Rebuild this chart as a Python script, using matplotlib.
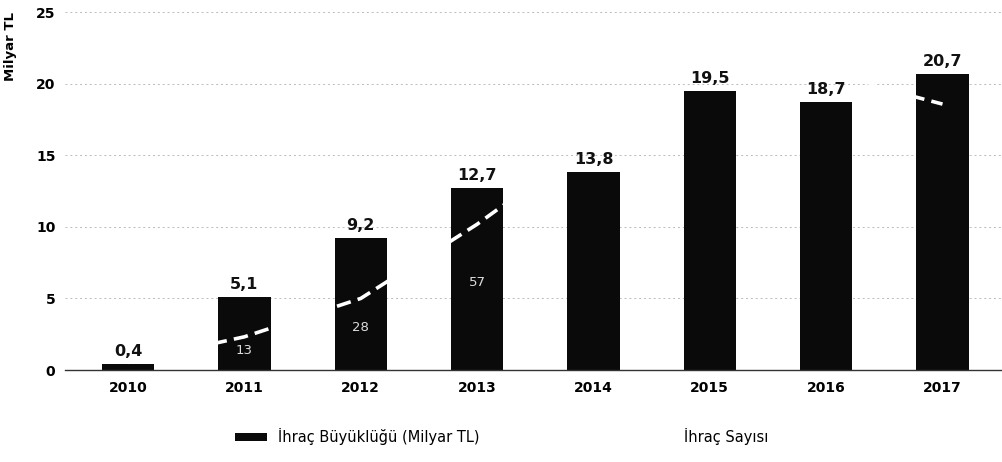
# Ihrac buyuklugu / ihrac sayisi bar chart
import numpy as np
import matplotlib.pyplot as plt

years = ["2010", "2011", "2012", "2013", "2014", "2015", "2016", "2017"]
size_tl = [0.4, 5.1, 9.2, 12.7, 13.8, 19.5, 18.7, 20.7]
size_labels = ["0,4", "5,1", "9,2", "12,7", "13,8", "19,5", "18,7", "20,7"]
# ihrac sayisi (white line, only readable over the bars)
counts = [3, 13, 28, 57, 90, 120, 116, 104]
count_labels = ["", "13", "28", "57", "", "", "", ""]

plt.rcParams['font.family'] = ['DejaVu Sans']

fig = plt.figure(figsize=(10.03, 4.62), dpi=100)
ax = fig.add_axes([0.065, 0.199, 0.935, 0.775])
ax2 = ax.twinx()

x = np.arange(len(years))
ax.bar(x, size_tl, width=0.45, color="#0a0a0a", zorder=2, label="İhraç Büyüklüğü (Milyar TL)")

ax.set_ylim(0, 25)
ax.set_xlim(-0.54, 7.52)
ax.set_yticks([0, 5, 10, 15, 20, 25])
ax.set_xticks(x)
ax.set_xticklabels(years, fontsize=10, fontweight="bold")
for t in ax.get_yticklabels():
	t.set_fontsize(10)
	t.set_fontweight("bold")
ax.tick_params(axis="both", length=0, pad=8)
ax.tick_params(axis="y", pad=7)
ax.grid(True, axis="y", color="#bbbbbb", linestyle=(0, (2, 3)), linewidth=0.7, zorder=0)
for s in ["top", "right", "left"]:
	ax.spines[s].set_visible(False)
ax.spines["bottom"].set_color("#333333")
ax.spines["bottom"].set_linewidth(1.0)
ax.set_ylabel("Milyar TL", fontsize=9.5, fontweight="bold")
ax.yaxis.set_label_coords(-0.051, 0.905)

# secondary scale for the count line
ax2.set_ylim(0, 140)
ax2.plot(x, counts, color="white", linestyle=(0, (4, 2)), linewidth=2.6, zorder=3, label="İhraç Sayısı")
for xi, c, lab in zip(x, counts, count_labels):
	if lab:
		ax2.text(xi, c * 0.6, lab, ha="center", va="center", fontsize=9.5, color="#dddddd")
# value labels above the bars, drawn over the white line
for xi, v, lab in zip(x, size_tl, size_labels):
	ax2.text(xi, v + 0.35, lab, transform=ax.transData, ha="center", va="bottom",
		fontsize=11.5, fontweight="bold", color="#111111", zorder=5)
ax2.set_yticks([])
for s in ax2.spines.values():
	s.set_visible(False)
ax2.set_zorder(ax.get_zorder() + 1)
ax2.patch.set_visible(False)

h1, l1 = ax.get_legend_handles_labels()
h2, l2 = ax2.get_legend_handles_labels()
fig.legend(h1 + h2, l1 + l2, loc="center", bbox_to_anchor=(0.5, 0.055), ncol=2,
	frameon=False, fontsize=10.5, handlelength=2.2, handleheight=0.5, columnspacing=11)

plt.savefig("out.png", dpi=100)
